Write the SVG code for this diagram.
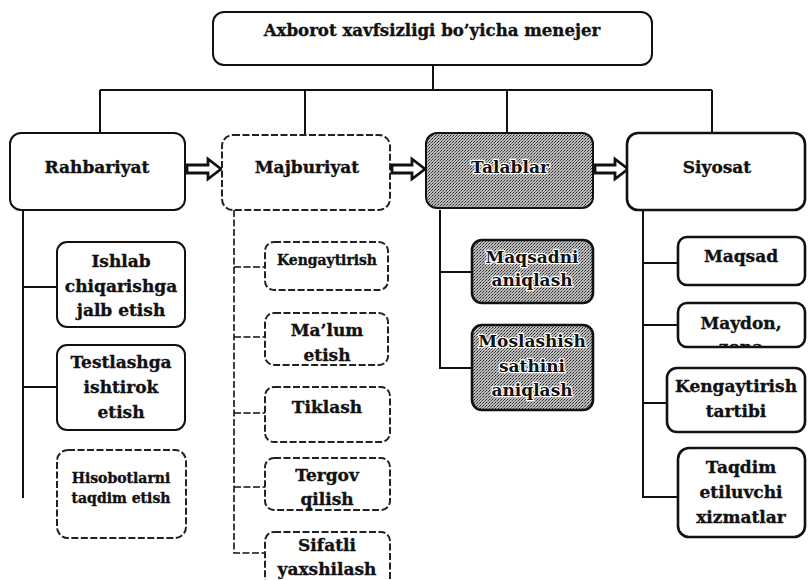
<svg xmlns="http://www.w3.org/2000/svg" width="808" height="580" viewBox="0 0 808 580">
  <defs>
    <!-- halftone-like grey fill for the "Talablar" branch -->
    <pattern id="dither" width="3" height="3" patternUnits="userSpaceOnUse">
      <rect width="3" height="3" fill="#bdbdbd"/>
      <rect x="0" y="0" width="1" height="1" fill="#222"/>
      <rect x="2" y="1" width="1" height="1" fill="#444"/>
      <rect x="1" y="2" width="1" height="1" fill="#777"/>
    </pattern>
    <clipPath id="clipMaydon">
      <rect x="678" y="303" width="127" height="44" rx="9"/>
    </clipPath>
  </defs>
  <style>
    .box{fill:#fff;stroke:#111;stroke-width:2}
    .thick{stroke-width:2.6}
    .dash{stroke-dasharray:7 2.5;stroke:#222}
    .shade{fill:url(#dither)}
    .lbl{font-family:"DejaVu Serif","Liberation Serif",serif;font-weight:bold;font-size:17px;text-anchor:middle;fill:#111;stroke:#111;stroke-width:0.35}
    .sm{font-size:14px}
    .halo{stroke:#fff;stroke-width:2.5;paint-order:stroke;stroke-linejoin:round}
    .wire{fill:none;stroke:#111;stroke-width:2}
    .wire.dash{stroke-width:1.6}
    .arrow{fill:#fff;stroke:#111;stroke-width:2.8;stroke-linejoin:miter}
  </style>

  <!-- connectors -->
  <g id="connectors">
    <path class="wire" d="M433 65 V90 M100 90 H712 M100 90 V133 M305 90 V135 M507 90 V133 M712 90 V133"/>
    <path class="wire" d="M23 210 V498 M23 287 H57 M23 387 H57"/>
    <path class="wire dash" d="M234 210 V553 H265 M234 267 H265 M234 337 H265 M234 413 H265 M234 487 H265"/>
    <path class="wire" d="M440 210 V368 H472 M440 272 H472"/>
    <path class="wire thick" d="M643 210 V497 H678 M643 263 H678 M643 325 H678 M643 403 H667"/>
    <!-- hollow arrows between the four branches -->
    <polygon class="arrow" points="187,165 208,165 208,159 221,169 208,179 208,173 187,173"/>
    <polygon class="arrow" points="392,165 412,165 412,159 425,169 412,179 412,173 392,173"/>
    <polygon class="arrow" points="595,165 615,165 615,159 628,169 615,179 615,173 595,173"/>
  </g>

  <g id="manager">
    <rect class="box" x="213" y="12" width="439" height="53" rx="11"/>
    <text class="lbl" x="432" y="36" style="font-size:16.6px">Axborot xavfsizligi bo’yicha menejer</text>
  </g>

  <!-- branch heads -->
  <g id="rahbariyat">
    <rect class="box" x="10" y="133" width="175" height="77" rx="11"/>
    <text class="lbl" x="97" y="173">Rahbariyat</text>
  </g>
  <g id="majburiyat">
    <rect class="box dash" x="222" y="135" width="168" height="75" rx="11"/>
    <text class="lbl" x="307" y="173">Majburiyat</text>
  </g>
  <g id="talablar">
    <rect class="box shade" x="426" y="133" width="167" height="75" rx="11"/>
    <text class="lbl halo" x="510" y="173">Talablar</text>
  </g>
  <g id="siyosat">
    <rect class="box thick" x="627" y="133" width="178" height="77" rx="11"/>
    <text class="lbl" x="717" y="173">Siyosat</text>
  </g>

  <!-- Rahbariyat items -->
  <g id="ishlab">
    <rect class="box" x="57" y="242" width="128" height="85" rx="10"/>
    <text class="lbl" x="121" y="267">Ishlab<tspan x="121" y="292">chiqarishga</tspan><tspan x="121" y="316">jalb etish</tspan></text>
  </g>
  <g id="testlash">
    <rect class="box" x="57" y="345" width="128" height="85" rx="10"/>
    <text class="lbl" x="121" y="368">Testlashga<tspan x="121" y="393">ishtirok</tspan><tspan x="121" y="418">etish</tspan></text>
  </g>
  <g id="hisobot">
    <rect class="box dash" x="57" y="450" width="129" height="88" rx="11"/>
    <text class="lbl sm" x="121" y="483">Hisobotlarni<tspan x="121" y="503">taqdim etish</tspan></text>
  </g>

  <!-- Majburiyat items -->
  <g id="kengaytirish-m">
    <rect class="box dash" x="265" y="242" width="123" height="48" rx="9"/>
    <text class="lbl sm" x="327" y="265" textLength="100" lengthAdjust="spacingAndGlyphs">Kengaytirish</text>
  </g>
  <g id="malum">
    <rect class="box dash" x="265" y="313" width="123" height="52" rx="9"/>
    <text class="lbl" x="327" y="336">Ma’lum<tspan x="327" y="361">etish</tspan></text>
  </g>
  <g id="tiklash">
    <rect class="box dash" x="265" y="387" width="125" height="55" rx="9"/>
    <text class="lbl" x="327" y="413">Tiklash</text>
  </g>
  <g id="tergov">
    <rect class="box dash" x="265" y="458" width="125" height="52" rx="9"/>
    <text class="lbl" x="327" y="481">Tergov<tspan x="327" y="505">qilish</tspan></text>
  </g>
  <g id="sifatli">
    <rect class="box dash" x="265" y="532" width="125" height="60" rx="9"/>
    <text class="lbl" x="327" y="551">Sifatli<tspan x="327" y="575">yaxshilash</tspan></text>
  </g>

  <!-- Talablar items -->
  <g id="maqsadni">
    <rect class="box shade thick" x="472" y="240" width="121" height="63" rx="10"/>
    <text class="lbl halo" x="532" y="263">Maqsadni<tspan x="532" y="286">aniqlash</tspan></text>
  </g>
  <g id="moslashish">
    <rect class="box shade thick" x="472" y="325" width="121" height="85" rx="10"/>
    <text class="lbl halo" x="532" y="347">Moslashish<tspan x="532" y="372">sathini</tspan><tspan x="532" y="396">aniqlash</tspan></text>
  </g>

  <!-- Siyosat items -->
  <g id="maqsad">
    <rect class="box thick" x="678" y="237" width="127" height="48" rx="9"/>
    <text class="lbl" x="741" y="262">Maqsad</text>
  </g>
  <g id="maydon">
    <rect class="box thick" x="678" y="303" width="127" height="44" rx="9"/>
    <text class="lbl" x="741" y="329" clip-path="url(#clipMaydon)">Maydon,<tspan x="741" y="353">zona</tspan></text>
  </g>
  <g id="kengaytirish-s">
    <rect class="box thick" x="667" y="368" width="138" height="64" rx="10"/>
    <text class="lbl" x="736" y="392">Kengaytirish<tspan x="736" y="417">tartibi</tspan></text>
  </g>
  <g id="taqdim">
    <rect class="box thick" x="678" y="448" width="127" height="89" rx="11"/>
    <text class="lbl" x="741" y="473">Taqdim<tspan x="741" y="498">etiluvchi</tspan><tspan x="741" y="523">xizmatlar</tspan></text>
  </g>
</svg>
